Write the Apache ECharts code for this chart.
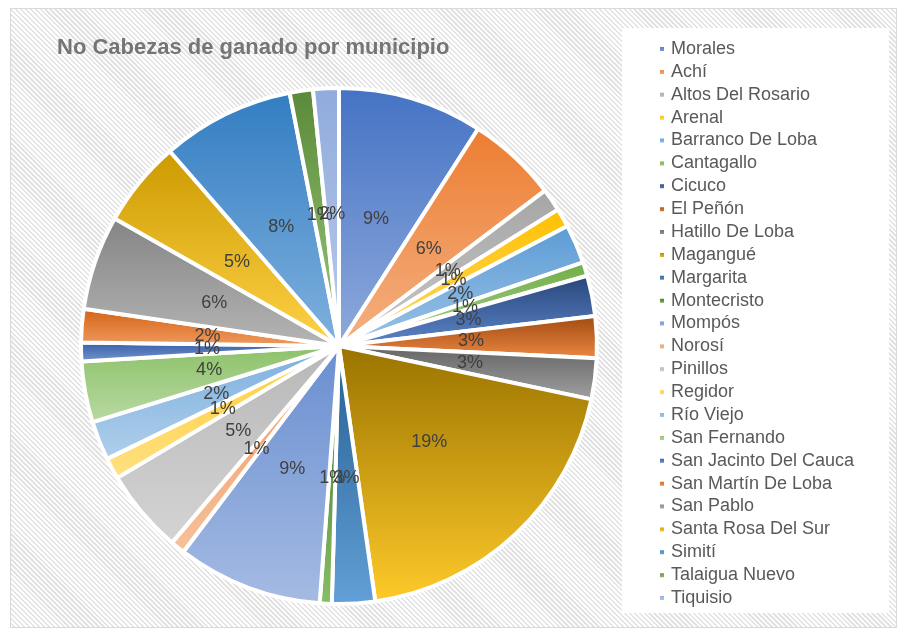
<!DOCTYPE html>
<html>
<head>
<meta charset="utf-8">
<title>No Cabezas de ganado por municipio</title>
<script src="https://cdn.jsdelivr.net/npm/echarts@6/dist/echarts.min.js"></script>
<style>
  html, body { margin: 0; padding: 0; width: 898px; height: 631px; background: #ffffff; overflow: hidden; }
  #frame {
    position: absolute; left: 10px; top: 8px; width: 885px; height: 618px;
    border: 1px solid #d9d9d9;
    background: repeating-linear-gradient(45deg, #ffffff 0px, #ffffff 1.8px, #e3e3e3 1.8px, #e3e3e3 3.5px);
  }
  #chart { position: absolute; left: 0; top: 0; width: 898px; height: 631px; }
</style>
</head>
<body>
<div id="frame"></div>
<div id="chart"></div>
<script>
// Municipios y número de cabezas de ganado
const municipios = [
  'Morales', 'Achí', 'Altos Del Rosario', 'Arenal', 'Barranco De Loba',
  'Cantagallo', 'Cicuco', 'El Peñón', 'Hatillo De Loba', 'Magangué',
  'Margarita', 'Montecristo', 'Mompós', 'Norosí', 'Pinillos',
  'Regidor', 'Río Viejo', 'San Fernando', 'San Jacinto Del Cauca', 'San Martín De Loba',
  'San Pablo', 'Santa Rosa Del Sur', 'Simití', 'Talaigua Nuevo', 'Tiquisio'
];
const cabezas = [
  90600, 56400, 14200, 11700, 24400,
  8600, 25300, 26100, 25600, 194200,
  26900, 7500, 91000, 9000, 52500,
  13300, 24400, 38100, 11700, 20800,
  59200, 53900, 83100, 14500, 16100
];

// Office palette, one base colour per slice
const paleta = [
  '#4472C4', '#ED7D31', '#A5A5A5', '#FFC000', '#5B9BD5',
  '#70AD47', '#264478', '#9E480E', '#636363', '#997300',
  '#255E91', '#43682B', '#698ED0', '#F1975A', '#B7B7B7',
  '#FFCD33', '#7CAFDD', '#8CC168', '#335AA1', '#D26012',
  '#848484', '#CC9A00', '#327DC2', '#5A8A39', '#8FAADC'
];

function hexToRgb(h) {
  const n = parseInt(h.slice(1), 16);
  return [(n >> 16) & 255, (n >> 8) & 255, n & 255];
}
function rgbToHsl(r, g, b) {
  r /= 255; g /= 255; b /= 255;
  const max = Math.max(r, g, b), min = Math.min(r, g, b);
  let h = 0, s = 0;
  const l = (max + min) / 2;
  if (max !== min) {
    const d = max - min;
    s = l > 0.5 ? d / (2 - max - min) : d / (max + min);
    if (max === r) h = (g - b) / d + (g < b ? 6 : 0);
    else if (max === g) h = (b - r) / d + 2;
    else h = (r - g) / d + 4;
    h /= 6;
  }
  return [h, s, l];
}
function hslToHex(h, s, l) {
  function f(p, q, t) {
    if (t < 0) t += 1;
    if (t > 1) t -= 1;
    if (t < 1 / 6) return p + (q - p) * 6 * t;
    if (t < 1 / 2) return q;
    if (t < 2 / 3) return p + (q - p) * (2 / 3 - t) * 6;
    return p;
  }
  let r, g, b;
  if (s === 0) { r = g = b = l; }
  else {
    const q = l < 0.5 ? l * (1 + s) : l + s - l * s;
    const p = 2 * l - q;
    r = f(p, q, h + 1 / 3); g = f(p, q, h); b = f(p, q, h - 1 / 3);
  }
  const toHex = v => Math.round(v * 255).toString(16).padStart(2, '0');
  return '#' + toHex(r) + toHex(g) + toHex(b);
}
function aclarar(hex, k) {
  const [r, g, b] = hexToRgb(hex);
  const [h, s, l] = rgbToHsl(r, g, b);
  return hslToHex(h, s, l + (1 - l) * k);
}
function degradado(hex) {
  return new echarts.graphic.LinearGradient(0, 0, 0, 1, [
    { offset: 0, color: hex },
    { offset: 1, color: aclarar(hex, 0.4) }
  ]);
}

const total = cabezas.reduce((a, b) => a + b, 0);
const datos = municipios.map((m, i) => ({
  name: m,
  value: cabezas[i],
  itemStyle: { color: degradado(paleta[i]) }
}));

const chart = echarts.init(document.getElementById('chart'), null, { renderer: 'canvas' });
chart.setOption({
  animation: false,
  backgroundColor: 'transparent',
  title: {
    text: 'No Cabezas de ganado por municipio',
    left: 57,
    top: 37,
    padding: 0,
    textStyle: {
      fontFamily: 'Liberation Sans, Arial, sans-serif',
      fontSize: 22,
      fontWeight: 'bold',
      color: '#757575'
    }
  },
  legend: {
    orient: 'vertical',
    left: 622,
    top: 28,
    padding: [12, 35, 6, 36],
    backgroundColor: '#ffffff',
    itemWidth: 6,
    itemHeight: 6,
    itemGap: 4.875,
    icon: 'rect',
    selectedMode: false,
    data: municipios,
    textStyle: {
      fontFamily: 'Liberation Sans, Arial, sans-serif',
      fontSize: 18,
      color: '#595959',
      padding: [0, 0, 0, 1]
    }
  },
  series: [{
    type: 'pie',
    center: [339, 346],
    radius: 258,
    startAngle: 90,
    clockwise: true,
    avoidLabelOverlap: false,
    minShowLabelAngle: 0,
    silent: true,
    data: datos,
    itemStyle: { borderColor: '#ffffff', borderWidth: 4 },
    label: {
      show: true,
      position: 'inside',
      fontFamily: 'Liberation Sans, Arial, sans-serif',
      fontSize: 18,
      color: '#404040',
      formatter: p => Math.round(p.value / total * 100) + '%'
    },
    labelLayout: { hideOverlap: false },
    labelLine: { show: false },
    emphasis: { disabled: true }
  }]
});
</script>
</body>
</html>
